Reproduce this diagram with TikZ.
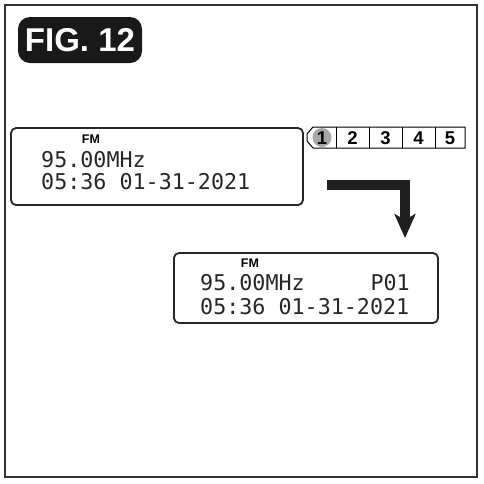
\documentclass[tikz,border=0pt]{standalone}
\usepackage{fontspec}
\setsansfont{Liberation Sans}
\setmonofont{DejaVu Sans Mono}
\usetikzlibrary{arrows.meta}

\tikzset{
  lcd/.style={draw=black!85, line width=1.8pt, rounded corners=5pt},
  lcdtext/.style={anchor=base west, inner sep=0pt, font=\ttfamily\fontsize{21.7}{21.7}\selectfont, text=black!85},
  band/.style={anchor=center, inner sep=0pt, font=\sffamily\bfseries\fontsize{12.5}{12.5}\selectfont},
  presetnum/.style={anchor=center, inner sep=0pt, font=\sffamily\bfseries\fontsize{18.5}{18.5}\selectfont}
}

\begin{document}
\begin{tikzpicture}[x=1pt,y=-1pt]
\useasboundingbox (0,0) rectangle (484,483);
\draw[line width=2pt, black!80] (5,5) rectangle (477,477);

% title badge
\node[fill=black!90, rounded corners=12pt, minimum width=124pt, minimum height=46pt, inner sep=0pt,
      text=white, font=\sffamily\bfseries\fontsize{33}{33}\selectfont] (fig) at (80,40) {FIG. 12};

% first display
\draw[lcd] (11,128) rectangle (303,205);
\node[band] (fm1) at (91,139) {FM};
\node[lcdtext] (freq1) at (41,167) {95.00MHz};
\node[lcdtext] (time1) at (41,189) {05:36 01-31-2021};

% preset bar
\draw[line width=1pt] (313,127) -- (465,127) -- (465,148) -- (313,148) -- (307,141) -- (307,134) -- cycle;
\fill[black!35] (322,137.5) circle (9.5pt);
\foreach \x in {336,369,402,435} \draw[line width=1pt] (\x,127) -- (\x,148);
\foreach \n/\x in {1/322,2/352.5,3/385.5,4/418.5,5/450} \node[presetnum] (p\n) at (\x,138) {\n};

% arrow
\coordinate (astart) at (327,185);
\coordinate (aend) at (405,238);
\draw[line width=10.5pt, black!88, line join=miter, -{Stealth[length=24pt, width=21pt, inset=6pt]}] (astart) -| (aend);

% second display
\draw[lcd] (174,253) rectangle (438,323);
\node[band] (fm2) at (250,263) {FM};
\node[lcdtext] (freq2) at (200,290) {95.00MHz};
\node[lcdtext, anchor=base east] (pre2) at (410,290) {P01};
\node[lcdtext] (time2) at (200,314) {05:36 01-31-2021};
\end{tikzpicture}
\end{document}
